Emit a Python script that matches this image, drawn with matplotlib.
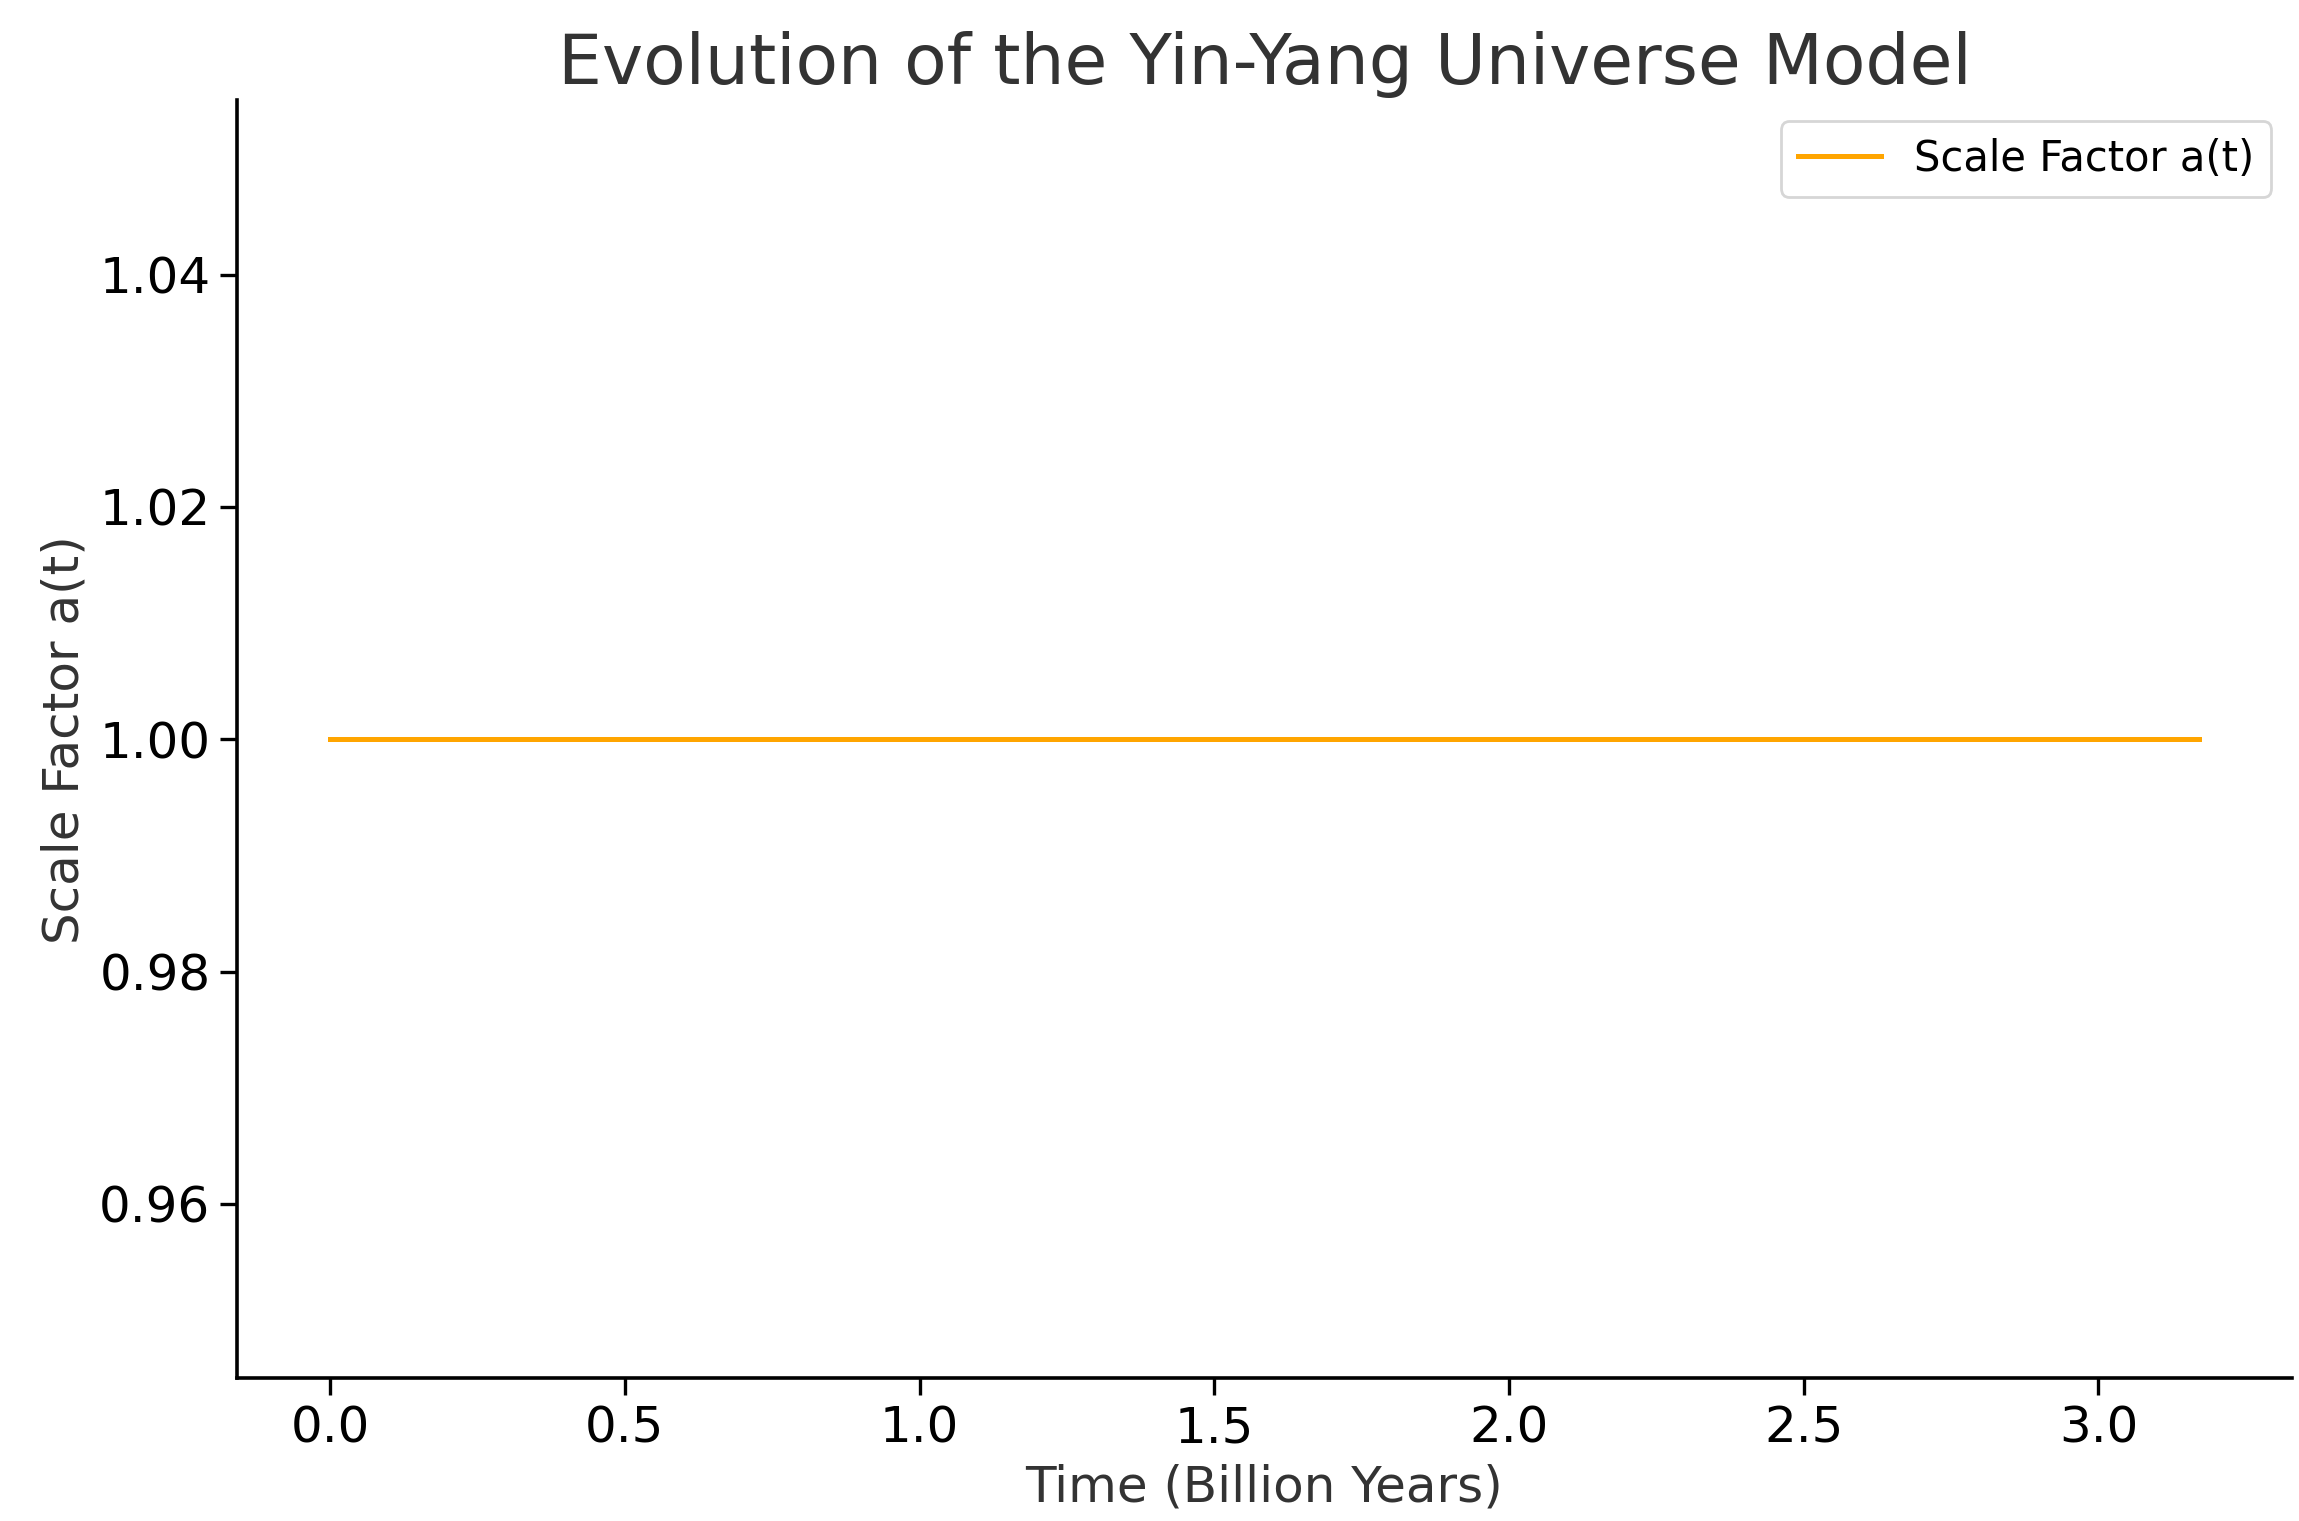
import numpy as np
import matplotlib
matplotlib.use("Agg")
import matplotlib.pyplot as plt

# constant scale factor over time
time_gyr = [0.0, 0.5, 1.0, 1.5, 2.0, 2.5, 3.0, 3.17]
scale_factor = [1.0, 1.0, 1.0, 1.0, 1.0, 1.0, 1.0, 1.0]

fig = plt.figure(figsize=(11.495, 7.605), dpi=200)
ax = fig.add_axes([0.103, 0.094, 0.894, 0.84])
ax.plot(time_gyr, scale_factor, color="orange", linewidth=1.8, label="Scale Factor a(t)")
ax.set_ylim(0.945, 1.055)
ax.set_xticks([0.0, 0.5, 1.0, 1.5, 2.0, 2.5, 3.0])
ax.set_yticks([0.96, 0.98, 1.00, 1.02, 1.04])
ax.tick_params(labelsize=18, width=1.2, length=6)
for side in ("top", "right"):
    ax.spines[side].set_visible(False)
for side in ("left", "bottom"):
    ax.spines[side].set_linewidth(1.3)
ax.set_xlabel("Time (Billion Years)", fontsize=18, color="#333333")
ax.set_ylabel("Scale Factor a(t)", fontsize=18, color="#333333")
ax.set_title("Evolution of the Yin-Yang Universe Model", fontsize=25, color="#333333")
ax.legend(loc="upper right", fontsize=15)
fig.savefig("out.png", dpi=200)
